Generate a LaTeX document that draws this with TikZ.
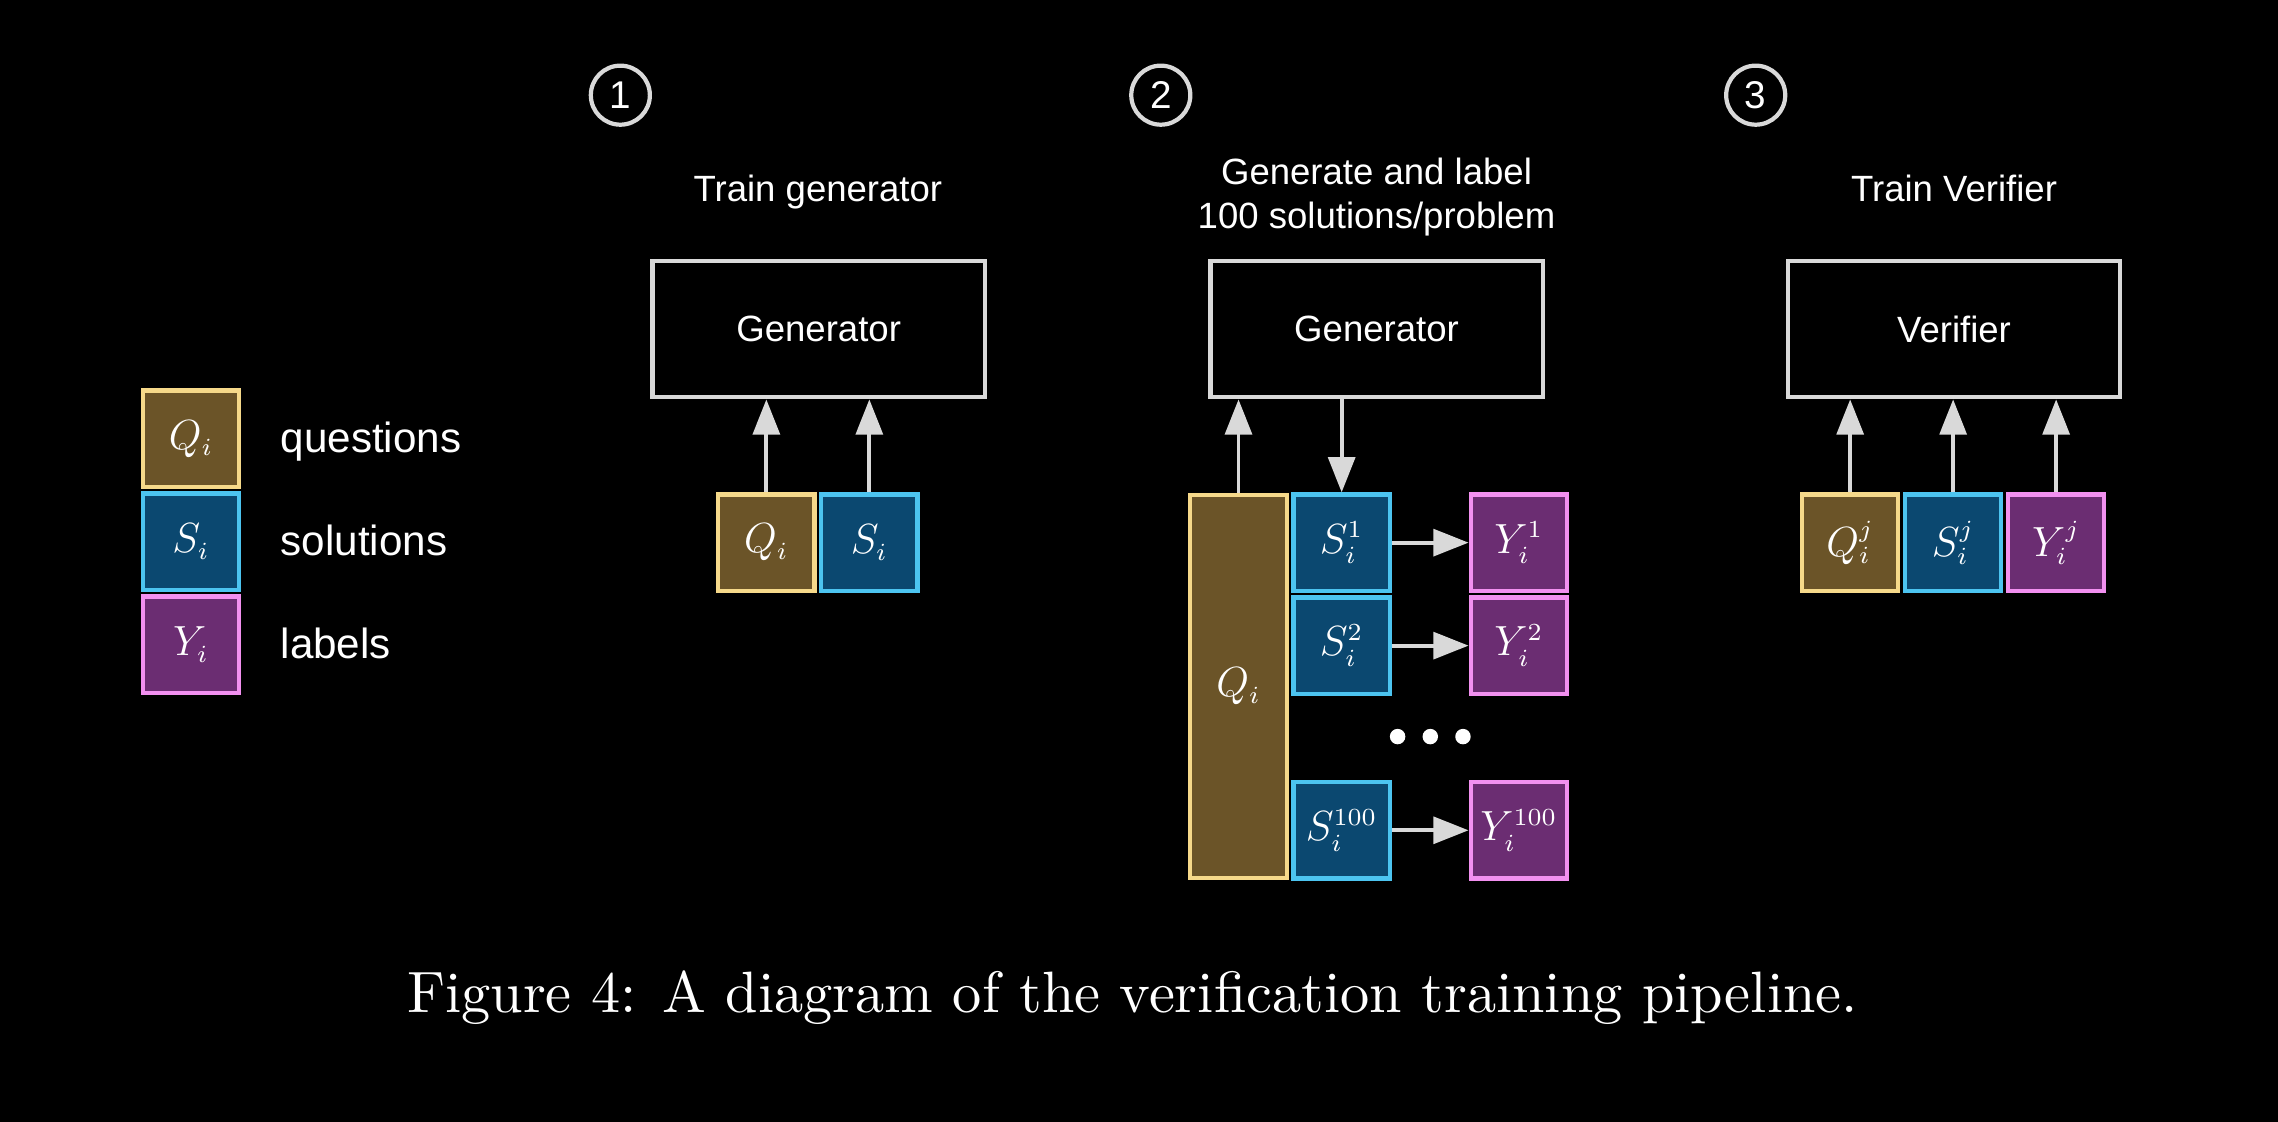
\documentclass[tikz,border=0pt]{standalone}
\usepackage{fontspec}
\setsansfont{Liberation Sans}
\newfontfamily\capfont{lmroman10-regular.otf}
\usepackage{tikz}
\usetikzlibrary{arrows.meta,positioning}
\DeclareMathSizes{12}{12}{7}{5}
\definecolor{qfill}{HTML}{6B5428}
\definecolor{qline}{HTML}{F6D98A}
\definecolor{sfill}{HTML}{0B4870}
\definecolor{sline}{HTML}{4CC4F0}
\definecolor{yfill}{HTML}{6B2D72}
\definecolor{yline}{HTML}{F290F0}
\definecolor{edge}{HTML}{D9D9D9}

\begin{document}
\begin{tikzpicture}[x=0.014528cm,y=-0.014528cm,text=white,
  cell/.style={minimum size=27.4pt, inner sep=0pt, line width=1.2pt,
    font=\fontsize{12}{14}\selectfont},
  qbox/.style={cell, draw=qline, fill=qfill},
  sbox/.style={cell, draw=sline, fill=sfill},
  ybox/.style={cell, draw=yline, fill=yfill},
  model/.style={draw=edge, line width=1.2pt, minimum width=94.5pt,
    minimum height=38.8pt, font=\sffamily\fontsize{10.4}{12.5}\selectfont},
  stepnum/.style={circle, draw=edge, line width=1.2pt, fill=black,
    minimum size=16.8pt, inner sep=0pt, font=\sffamily\fontsize{11}{13}\selectfont},
  title/.style={font=\sffamily\fontsize{10.4}{12.6}\selectfont, align=center, anchor=base},
  legtext/.style={font=\sffamily\fontsize{12}{14}\selectfont, inner sep=0pt,
    text height=9pt, text depth=1.2pt},
  arr/.style={draw=edge, line width=1.1pt, -{Triangle[length=10pt,width=7.6pt]}}]

  \fill[black] (0,0) rectangle (1568,772);

  % legend
  \node[qbox] (legq) at (131.5,302) {$Q_i$};
  \node[sbox, below=0.7pt of legq] (legs) {$S_i$};
  \node[ybox, below=0.7pt of legs] (legy) {$Y_i$};
  \node[legtext, right=11pt of legq] (legqt) {questions};
  \node[legtext, right=11pt of legs] (legst) {solutions};
  \node[legtext, right=11pt of legy] (legyt) {labels};

  % step 1
  \node[stepnum] (n1) at (427,65.5) {1};
  \node[title] (t1) at (563,138.5) {Train generator};
  \node[model] (gen1) at (563.5,226.5) {Generator};
  \node[qbox] (q1) at (527.5,373.5) {$Q_i$};
  \node[sbox, right=0.7pt of q1] (s1) {$S_i$};
  \draw[arr] (q1.north) -- (q1.north |- gen1.south);
  \draw[arr] (s1.north) -- (s1.north |- gen1.south);

  % step 2
  \node[stepnum] (n2) at (799,65.5) {2};
  \node[title] (t2) at (947.5,157.5) {Generate and label\\100 solutions/problem};
  \node[model] (gen2) at (947.5,226.5) {Generator};
  \node[qbox, minimum height=108.8pt] (q2) at (852.5,472.5) {$Q_i$};
  \node[sbox] (s21) at (923.5,373.5) {$S_i^1$};
  \node[sbox, below=0.7pt of s21] (s22) {$S_i^2$};
  \node[sbox] (s2n) at (923.5,571.5) {$S_i^{100}$};
  \node[ybox, right=21.8pt of s21] (y21) {$Y_i^1$};
  \node[ybox, right=21.8pt of s22] (y22) {$Y_i^2$};
  \node[ybox, right=21.8pt of s2n] (y2n) {$Y_i^{100}$};
  \draw[arr] (q2.north) -- (q2.north |- gen2.south);
  \draw[arr] (s21.north |- gen2.south) -- (s21.north);
  \draw[arr] (s21) -- (y21);
  \draw[arr] (s22) -- (y22);
  \draw[arr] (s2n) -- (y2n);
  \foreach \i/\x in {1/962,2/984.5,3/1007}
    \node[circle, fill=white, minimum size=4.4pt, inner sep=0pt] (dot\i) at (\x,507) {};

  % step 3
  \node[stepnum] (n3) at (1208.5,65.5) {3};
  \node[title] (t3) at (1345,139) {Train Verifier};
  \node[model] (ver) at (1345,226.5) {Verifier};
  \node[qbox] (q3) at (1273.5,373.5) {$Q_i^j$};
  \node[sbox, right=0.7pt of q3] (s3) {$S_i^j$};
  \node[ybox, right=0.7pt of s3] (y3) {$Y_i^j$};
  \draw[arr] (q3.north) -- (q3.north |- ver.south);
  \draw[arr] (s3.north) -- (s3.north |- ver.south);
  \draw[arr] (y3.north) -- (y3.north |- ver.south);

  % caption
  \node[anchor=base, font=\capfont\fontsize{16.6}{20}\selectfont] (cap) at (779.5,697)
    {Figure 4: A diagram of the verification training pipeline.};
\end{tikzpicture}
\end{document}
